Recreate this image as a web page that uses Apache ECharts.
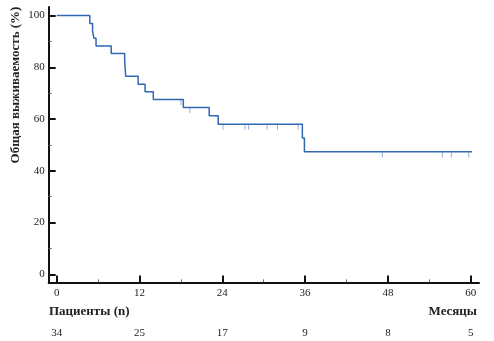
<!DOCTYPE html>
<html>
<head>
<meta charset="utf-8">
<script src="https://cdn.jsdelivr.net/npm/echarts@6/dist/echarts.min.js"></script>
<style>
  html, body { margin: 0; padding: 0; background: #fff; }
  #km_chart { width: 494px; height: 341px; }
</style>
</head>
<body>
<div id="km_chart"></div>
<script>
// шаги кривой Каплана-Мейера (месяцы / %)
const stepTimes = [0, 4.8, 5.2, 5.4, 5.7, 7.9, 9.85, 10.0, 11.8, 12.8, 14.0, 18.35, 22.1, 23.4, 35.6, 35.9, 60.2]
const stepSurvival = [100, 96.9, 93.9, 91.2, 88.2, 85.3, 82.4, 76.5, 73.5, 70.6, 67.6, 64.5, 61.3, 58.0, 52.7, 47.4, 47.4]
// цензурированные наблюдения
const censorTimes = [18.0, 19.3, 24.1, 27.3, 27.8, 30.5, 32.0, 35.0, 47.2, 55.9, 57.2, 59.7]
const censorSurvival = [67.6, 64.5, 58.0, 58.0, 58.0, 58.0, 58.0, 58.0, 47.4, 47.4, 47.4, 47.4]
// шкалы и число пациентов под риском
const monthTicks = [0, 12, 24, 36, 48, 60]
const monthMinor = [6, 18, 30, 42, 54]
const atRisk = [34, 25, 17, 9, 8, 5]
const percentTicks = [0, 20, 40, 60, 80, 100]
const percentMinor = [10, 30, 50, 70, 90]

const serif = 'Liberation Serif'
const textColor = '#222'
const axisColor = '#111'

// оси чуть длиннее данных: 0 отстоит от угла
const xMin = -1.16
const xMax = 61.2
const yMin = -3.1
const yMax = 103.3

function xAxisBase() {
  return {
    type: 'value',
    position: 'bottom',
    min: xMin,
    max: xMax,
    axisLine: { show: false, onZero: false },
    axisTick: { show: false },
    axisLabel: { show: false },
    splitLine: { show: false }
  }
}
function yAxisBase() {
  return {
    type: 'value',
    position: 'left',
    min: yMin,
    max: yMax,
    axisLine: { show: false, onZero: false },
    axisTick: { show: false },
    axisLabel: { show: false },
    splitLine: { show: false }
  }
}

const chart = echarts.init(document.getElementById('km_chart'))
chart.setOption({
  animation: false,
  grid: { left: 48.7, right: 15, top: 7, bottom: 58.6, outerBoundsMode: 'none', containLabel: false },
  xAxis: [
    Object.assign(xAxisBase(), {
      axisLine: { show: true, onZero: false, lineStyle: { color: axisColor, width: 2 } },
      axisTick: { show: true, inside: true, length: 7, customValues: monthTicks, lineStyle: { color: axisColor, width: 2 } },
      axisLabel: { show: true, margin: 5, customValues: monthTicks, fontFamily: serif, fontSize: 11, color: textColor }
    }),
    Object.assign(xAxisBase(), {
      axisTick: { show: true, inside: true, length: 3, customValues: monthMinor, lineStyle: { color: '#666', width: 1 } }
    }),
    Object.assign(xAxisBase(), {
      axisLabel: {
        show: true,
        margin: 45,
        customValues: monthTicks,
        fontFamily: serif,
        fontSize: 11,
        color: textColor,
        formatter: function(v) {
          const i = monthTicks.indexOf(v)
          return i >= 0 ? String(atRisk[i]) : ''
        }
      }
    })
  ],
  yAxis: [
    Object.assign(yAxisBase(), {
      axisLine: { show: true, onZero: false, lineStyle: { color: axisColor, width: 2 } },
      axisTick: { show: true, inside: true, length: 7, customValues: percentTicks, lineStyle: { color: axisColor, width: 2 } },
      axisLabel: { show: true, margin: 4, customValues: percentTicks, fontFamily: serif, fontSize: 11, color: textColor }
    }),
    Object.assign(yAxisBase(), {
      axisTick: { show: true, inside: true, length: 3, customValues: percentMinor, lineStyle: { color: '#666', width: 1 } }
    })
  ],
  graphic: [
    {
      type: 'text',
      x: 16,
      y: 85,
      rotation: Math.PI / 2,
      style: {
        text: 'Общая выживаемость (%)',
        font: 'bold 13px "Liberation Serif"',
        fill: textColor,
        textAlign: 'center',
        textVerticalAlign: 'middle'
      }
    },
    {
      type: 'text',
      x: 49,
      y: 312,
      style: {
        text: 'Пациенты (n)',
        font: 'bold 13px "Liberation Serif"',
        fill: textColor,
        textAlign: 'left',
        textVerticalAlign: 'middle'
      }
    },
    {
      type: 'text',
      x: 477,
      y: 312,
      style: {
        text: 'Месяцы',
        font: 'bold 13px "Liberation Serif"',
        fill: textColor,
        textAlign: 'right',
        textVerticalAlign: 'middle'
      }
    }
  ],
  series: [
    {
      type: 'line',
      step: 'end',
      symbol: 'none',
      data: stepTimes.map((t, i) => [t, stepSurvival[i]]),
      lineStyle: { color: '#2f67b2', width: 1.5 }
    },
    {
      type: 'scatter',
      symbol: 'rect',
      symbolSize: [1, 5],
      symbolOffset: [0, 3],
      data: censorTimes.map((t, i) => [t, censorSurvival[i]]),
      itemStyle: { color: '#7c9dcc' }
    }
  ]
})
</script>
</body>
</html>
